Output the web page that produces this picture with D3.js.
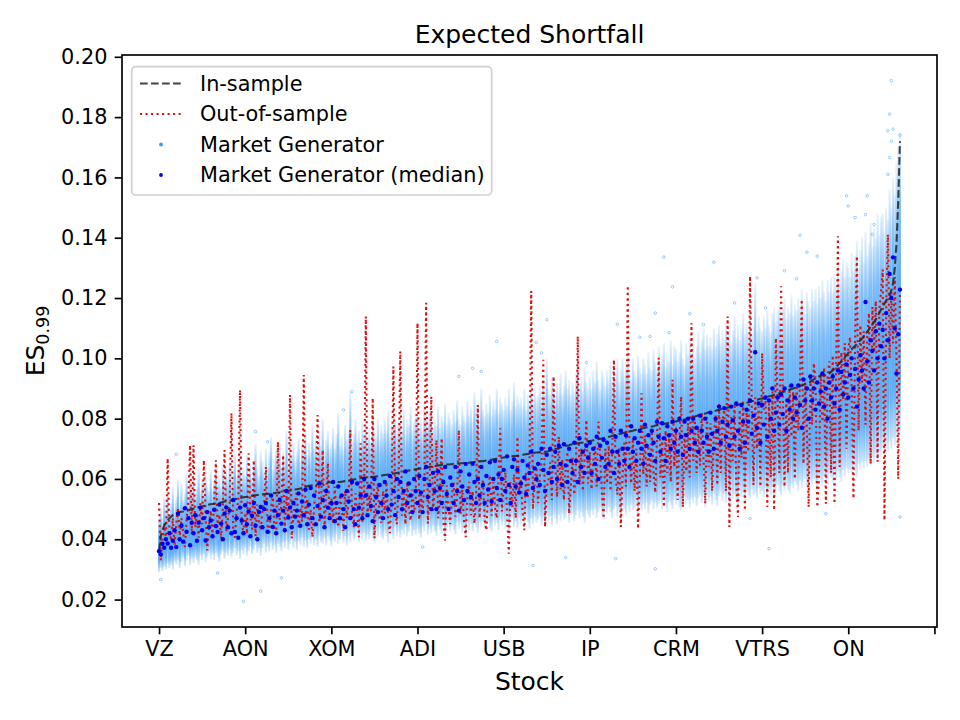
<!DOCTYPE html>
<html>

<head>
    <meta charset="utf-8">
    <style>
        body { margin: 0; background: #fff; }
        svg { font-family: "DejaVu Sans", sans-serif; }
    </style>
</head>

<body>
    <script src="https://d3js.org/d3.v7.min.js"></script>
    <div id="chart"></div>
    <script>
        // all ES values are in units of 1e-4, one entry per stock (sorted by in-sample ES)
        const inSample = [
            360,410,430,445,455,463,470,475,480,483, 486,488,490,491,492,493,494,496,498,500,
            501,503,505,506,507,509,511,513,514,515, 516,517,518,519,520,521,522,524,525,526,
            527,528,529,530,532,534,536,537,538,539, 540,541,542,543,544,545,546,547,548,548,
            549,549,550,550,551,551,552,553,554,555, 556,557,558,559,560,561,562,563,564,565,
            566,567,568,570,572,574,576,577,578,579, 580,581,582,583,584,585,586,587,588,589,
            589,589,590,590,590,590,591,592,593,594, 595,596,597,598,599,600,601,602,603,604,
            605,605,606,606,607,607,608,609,610,611, 612,613,614,615,616,617,618,619,620,621,
            622,623,624,625,627,628,629,630,631,632, 633,634,635,636,637,638,639,640,641,642,
            643,644,645,645,646,646,647,648,648,649, 649,650,650,651,651,652,652,653,653,654,
            654,655,655,656,657,657,658,659,659,660, 661,662,663,664,665,666,667,668,669,670,
            671,672,673,673,674,675,676,676,677,678, 679,680,681,682,683,684,685,686,687,688,
            688,689,689,690,690,690,692,694,696,698, 700,701,703,704,706,707,709,711,712,714,
            715,716,717,718,719,720,721,723,724,725, 726,727,728,730,731,732,733,734,736,738,
            739,740,741,743,744,746,747,749,750,752, 753,755,756,757,759,760,762,763,764,766,
            767,768,770,771,772,773,774,775,777,778, 779,780,781,782,784,785,786,787,789,790,
            791,792,793,794,796,797,799,801,802,804, 806,807,809,811,812,814,815,817,819,821,
            822,823,825,826,828,829,831,832,834,835, 837,838,840,841,843,844,846,847,849,850,
            851,853,854,856,858,859,861,862,864,866, 867,869,870,872,874,875,877,879,880,882,
            884,886,888,890,892,894,896,898,900,902, 904,906,908,910,912,914,916,918,922,926,
            930,934,937,940,942,943,944,945,946,950, 955,960,966,972,978,984,990,996,1003,1010,
            1018,1024,1030,1036,1042,1048,1054,1060,1066,1073, 1080,1088,1096,1104,1112,1120,1130,1140,1150,1162,
            1172,1182,1192,1200,1210,1225,1250,1300,1380,1520, 1720
        ]

        const outSample = [
            520,330,400,452,398,668,430,395,470,380, 450,505,412,470,425,374,462,530,712,418,
            712,440,488,405,520,450,662,478,363,445, 495,418,530,662,440,482,402,505,696,425,
            470,515,818,438,405,492,530,895,452,420, 488,418,685,475,432,662,410,515,455,430,
            495,520,640,445,415,505,540,430,410,723, 465,512,679,432,545,470,879,403,482,528,
            560,440,505,458,945,470,535,432,498,407, 512,558,812,455,520,696,436,548,652,465,
            535,452,575,480,440,548,505,428,560,470, 520,762,478,440,552,490,407,718,455,538,
            1139,470,548,492,868,403,532,585,470,455, 560,485,590,465,420,548,973,495,450,575,
            1023,478,552,450,590,505,462,565,488,530, 1117,465,548,490,585,1184,452,540,873,495,
            560,729,470,535,735,462,396,578,500,450, 548,590,475,540,762,485,565,462,407,552,
            590,480,560,452,545,845,470,555,598,462, 430,565,612,478,590,505,470,605,768,492,
            575,622,480,352,590,505,615,470,740,560, 600,490,430,625,535,640,1223,500,590,640,
            520,610,660,995,441,575,592,655,530,940, 640,540,740,565,665,530,635,690,485,575,
            670,548,650,1073,580,700,560,665,796,585, 690,565,660,712,575,790,675,555,469,700,
            585,710,560,690,995,600,548,705,441,610, 720,575,1241,690,585,735,560,700,435,598,
            884,615,745,575,710,590,760,620,555,735, 1002,605,735,507,760,620,745,590,929,640,
            770,530,735,873,507,755,625,785,605,1117, 660,795,620,770,645,820,665,518,805,640,
            785,560,750,810,580,850,620,795,830,560, 1139,441,805,660,850,585,474,830,670,860,
            496,830,690,1272,850,580,870,700,840,575, 1017,830,870,507,850,605,890,496,1067,860,
            620,1239,890,574,870,620,910,740,890,600, 910,760,930,1195,650,920,750,507,940,780,
            984,930,507,600,950,790,970,518,940,990, 620,1010,518,970,1405,640,1020,860,1050,700,
            1030,1070,900,535,1080,1339,760,1110,920,1090, 780,1070,1150,650,1170,1020,1190,657,1160,1220,
            1295,463,1170,1411,1000,1220,1050,1270,1000,600, 1230
        ]

        const genMedian = [
            360,350,385,372,400,386,420,372,395,430, 374,485,400,445,392,503,425,470,380,455,
            420,480,395,455,505,430,470,396,490,440, 462,410,498,444,424,515,452,400,485,505,
            440,495,420,530,424,470,405,505,462,420, 513,450,492,410,478,520,445,400,490,507,
            440,500,520,425,470,545,441,495,420,480, 530,452,495,430,560,472,505,440,520,475,
            495,552,445,525,480,565,450,515,570,470, 545,450,510,585,475,530,440,560,505,470,
            520,590,460,520,575,470,545,500,440,560, 525,470,590,500,450,585,505,545,470,600,
            545,480,575,510,460,600,540,490,580,520, 470,590,545,500,610,515,560,480,600,540,
            590,500,560,625,520,585,545,490,600,560, 520,610,555,490,600,640,540,580,500,620,
            560,500,625,570,520,590,640,550,500,605, 580,520,640,560,495,625,575,530,650,560,
            615,540,650,590,520,600,545,640,580,520, 610,565,655,525,600,660,570,615,530,600,
            630,560,675,580,520,640,665,575,630,555, 585,660,605,550,645,620,690,570,635,600,
            650,580,700,630,560,680,620,700,590,640, 690,600,710,650,580,715,645,590,700,660,
            620,720,660,590,735,640,690,620,710,670, 720,620,700,650,740,600,710,670,730,640,
            720,650,760,690,620,740,690,650,760,700, 660,745,700,640,775,690,735,660,720,760,
            700,650,780,710,745,680,760,720,660,790, 740,690,785,735,660,775,745,700,790,720,
            760,690,800,740,680,790,745,800,700,760, 800,720,770,690,810,760,720,800,740,690,
            820,750,700,800,760,840,720,790,835,740, 780,710,840,795,740,850,760,700,845,790,
            720,830,790,860,750,810,1020,770,850,720, 845,780,870,740,860,800,900,760,820,870,
            780,880,815,900,760,860,830,910,800,870, 820,910,845,770,930,860,900,800,940,860,
            900,830,920,850,890,950,840,900,800,920, 870,940,850,900,960,830,955,880,920,980,
            870,945,1000,900,965,840,930,1010,960,900, 1187,990,920,1060,1025,960,1090,1000,1115,1040,
            1095,1000,1150,1060,1280,1200,1335,1100,950,1080, 1228
        ]

        // spread of the generated samples per stock (low / high end of the cloud)
        const genLow = [
            290,305,295,310,300,320,305,315,300,325, 315,330,305,325,340,310,330,345,315,335,
            320,340,330,315,345,330,350,325,340,355, 335,350,330,355,340,325,350,360,335,355,
            345,365,340,355,370,345,360,335,365,350, 370,345,360,375,350,365,380,355,370,345,
            370,385,355,375,360,390,365,380,355,385, 375,360,390,370,395,365,385,400,370,390,
            365,395,380,405,375,395,370,400,385,405, 380,400,375,410,390,385,405,380,410,395,
            375,405,390,415,385,400,420,390,410,380, 410,390,420,395,405,425,390,415,400,420,
            395,415,400,430,405,390,425,410,435,405, 400,425,410,390,430,415,400,440,410,425,
            405,430,415,440,410,425,445,410,430,415, 435,420,405,440,425,450,415,435,420,445,
            425,410,445,430,420,450,405,440,450,425, 445,430,415,455,435,450,420,445,405,455,
            430,450,425,460,440,420,455,440,460,430, 450,460,435,425,465,445,455,430,465,445,
            460,435,465,415,455,470,440,460,435,470, 450,465,440,475,455,435,470,450,475,455,
            465,475,445,470,450,480,460,475,445,480, 470,450,480,460,485,465,470,490,455,480,
            485,460,480,495,470,490,475,455,495,480, 470,495,480,500,470,490,505,480,465,500,
            485,505,490,470,500,510,475,500,465,510, 500,480,510,490,515,495,500,520,475,510,
            495,515,500,520,485,515,525,500,520,505, 515,525,500,530,510,490,525,515,500,530,
            515,535,505,495,525,540,515,530,505,535, 520,540,510,535,545,520,540,505,545,525,
            540,515,550,530,510,545,555,525,550,520, 545,505,555,535,550,525,515,560,540,555,
            525,560,545,535,565,545,555,535,570,550, 560,540,570,535,565,545,575,540,565,580,
            560,545,580,560,585,565,550,585,570,590, 580,560,595,570,590,600,575,555,595,580,
            600,585,565,605,590,575,610,595,580,615, 605,585,620,600,625,605,590,630,610,635,
            620,630,615,645,625,605,650,630,655,635, 660,640,665,645,675,655,685,665,695,675,
            705,680,715,690,725,700,735,710,745,720, 750
        ]

        const genHigh = [
            470,505,470,540,495,560,480,520,575,505, 540,600,520,585,530,555,620,545,600,530,
            610,550,575,640,560,600,545,625,580,560, 630,565,600,660,580,615,570,650,595,640,
            600,665,590,625,690,610,650,700,600,640, 610,680,620,650,600,660,720,640,610,690,
            660,620,700,640,690,740,630,670,700,650, 720,645,690,660,760,650,700,680,720,660,
            690,740,660,720,700,760,680,720,690,780, 700,740,680,760,710,800,690,730,760,700,
            720,770,700,750,820,710,740,700,780,730, 760,890,720,750,800,730,760,720,790,740,
            790,740,770,720,810,760,740,800,730,780, 750,800,760,830,740,790,760,820,750,800,
            790,760,830,750,800,780,840,760,790,820, 810,770,800,760,850,820,780,840,790,770,
            800,780,840,770,810,790,850,780,820,800, 780,830,790,860,800,780,840,810,790,860,
            810,840,800,890,820,860,800,900,830,810, 850,820,880,810,860,830,900,820,870,850,
            830,870,840,900,830,860,920,840,880,850, 870,840,900,830,880,860,930,850,900,870,
            880,910,860,930,880,1000,900,880,940,890, 880,920,890,950,880,910,960,900,930,880,
            920,890,950,1000,900,940,890,970,920,900, 940,900,960,920,990,930,900,960,940,910,
            960,930,990,920,970,940,1000,920,960,1000, 940,980,1020,960,930,1000,960,940,1010,970,
            950,1000,980,950,1020,970,960,1030,990,960, 1040,980,1010,1050,970,1020,990,1060,980,1040,
            1030,990,1020,1060,1000,980,1050,1010,1070,1020, 1050,1000,1040,1090,1020,1060,1100,1030,1080,1040,
            1070,1030,1100,1040,1080,1110,1050,1090,1060,1120, 1080,1110,1050,1090,1140,1070,1110,1060,1100,1150,
            1080,1120,1090,1150,1080,1110,1250,1090,1140,1100, 1090,1140,1100,1160,1110,1090,1150,1170,1120,1160,
            1180,1120,1160,1200,1130,1170,1150,1210,1140,1180, 1160,1200,1170,1230,1180,1150,1220,1190,1170,1230,
            1190,1230,1180,1240,1200,1260,1220,1190,1260,1220, 1270,1220,1280,1240,1310,1250,1290,1330,1270,1320,
            1310,1270,1350,1290,1340,1390,1300,1360,1400,1320, 1420,1340,1380,1450,1370,1430,1400,1480,1410,1470,
            1480,1420,1500,1460,1560,1500,1600,1540,1650,1700, 1750
        ]

        // isolated generated samples outside the main cloud: [stock index, ES]
        const genStray = [
            [1,266],[10,682],[34,288],[49,194],[56,757],[59,228],[63,723],[71,272],[107,829],[112,890],
            [153,374],[174,940],[182,967],[187,956],[196,1056],[217,313],[219,1053],[222,1018],[225,1128],[236,339],
            [248,986],[265,336],[266,1113],[279,1070],[285,1073],[288,302],[288,1150],[293,1336],[296,1085],[298,1237],
            [308,1148],[316,1112],[322,1319],[334,1184],[343,469],[347,1267],[352,1167],[354,369],[363,1291],[370,1264],
            [372,1408],[376,1352],[382,1339],[387,485],[399,1539],[400,1505],[404,1467],[410,1477],[411,1539],[414,1411],
            [415,1444],[423,1610],[423,1755],[424,1666],[424,1810],[425,1720],[425,1921],[426,1760],[430,474],[430,1740]
        ]

        const tickIndex = [0, 50, 100, 150, 200, 250, 300, 350, 400, 450]
        const tickNames = ["VZ", "AON", "XOM", "ADI", "USB", "IP", "CRM", "VTRS", "ON", ""]
        const yTicks = [0.02, 0.04, 0.06, 0.08, 0.10, 0.12, 0.14, 0.16, 0.18, 0.20]

        const width = 960
        const height = 720
        const plot = { left: 122, right: 937, top: 55, bottom: 627 }
        const unit = 1e-4
        const n = inSample.length
        const ftick = 20.8

        const svg = d3.select("#chart").append("svg")
            .attr("width", width).attr("height", height)

        const x = d3.scaleLinear()
            .domain([-0.05 * (n - 1), 1.05 * (n - 1)])
            .range([plot.left, plot.right])
        const y = d3.scaleLinear()
            .domain([0.0109, 0.2006])
            .range([plot.bottom, plot.top])

        const defs = svg.append("defs")
        defs.append("clipPath").attr("id", "clip")
            .append("rect")
            .attr("x", plot.left).attr("y", plot.top)
            .attr("width", plot.right - plot.left).attr("height", plot.bottom - plot.top)

        // density falls off toward both ends of each stock's sample column
        const grad = defs.append("linearGradient").attr("id", "cloud")
            .attr("x1", 0).attr("y1", 0).attr("x2", 0).attr("y2", 1)
        const stops = [[0, 0.1], [0.25, 0.55], [0.5, 0.72], [0.8, 0.68], [1, 0.15]]
        stops.forEach(s => grad.append("stop")
            .attr("offset", s[0])
            .attr("stop-color", "#2a92f2")
            .attr("stop-opacity", s[1]))

        const g = svg.append("g").attr("clip-path", "url(#clip)")

        const bw = x(1) - x(0)
        const idx = d3.range(n)

        // generated sample cloud
        g.append("g").selectAll("rect")
            .data(idx)
            .enter()
            .append("rect")
            .attr("x", i => x(i) - bw / 2 - 0.2)
            .attr("width", bw + 0.4)
            .attr("y", i => y(genHigh[i] * unit))
            .attr("height", i => y(genLow[i] * unit) - y(genHigh[i] * unit))
            .attr("fill", "url(#cloud)")

        g.append("g").selectAll("circle")
            .data(genStray)
            .enter()
            .append("circle")
            .attr("cx", d => x(d[0]))
            .attr("cy", d => y(d[1] * unit))
            .attr("r", 1.3)
            .attr("fill", "none")
            .attr("stroke", "#1e90ff")
            .attr("stroke-opacity", 0.55)
            .attr("stroke-width", 0.8)

        const line = arr => d3.line()
            .x((d, i) => x(i))
            .y(d => y(d * unit))(arr)

        g.append("path")
            .attr("d", line(outSample))
            .attr("fill", "none")
            .attr("stroke", "#dc0f0f")
            .attr("stroke-width", 2.08)
            .attr("stroke-dasharray", "2.08,3.43")

        g.append("path")
            .attr("d", line(inSample))
            .attr("fill", "none")
            .attr("stroke", "#222")
            .attr("stroke-opacity", 0.85)
            .attr("stroke-width", 2.08)
            .attr("stroke-dasharray", "7.7,3.3")

        g.append("g").selectAll("circle")
            .data(genMedian)
            .enter()
            .append("circle")
            .attr("cx", (d, i) => x(i))
            .attr("cy", d => y(d * unit))
            .attr("r", 2.2)
            .attr("fill", "#0000f0")

        // axes
        const xAxis = d3.axisBottom(x)
            .tickValues(tickIndex)
            .tickFormat((d, i) => tickNames[i])
            .tickSize(7.3).tickPadding(7.3)
        const yAxis = d3.axisLeft(y)
            .tickValues(yTicks)
            .tickFormat(d3.format(".2f"))
            .tickSize(7.3).tickPadding(7.3)

        const gx = svg.append("g")
            .attr("transform", "translate(0," + plot.bottom + ")")
            .call(xAxis)
        const gy = svg.append("g")
            .attr("transform", "translate(" + plot.left + ",0)")
            .call(yAxis)
        ;[gx, gy].forEach(a => {
            a.select(".domain").remove()
            a.selectAll("line").attr("stroke", "#000").attr("stroke-width", 1.67)
            a.selectAll("text").attr("font-size", ftick).attr("fill", "#000")
                .attr("font-family", "DejaVu Sans")
        })

        svg.append("rect")
            .attr("x", plot.left).attr("y", plot.top)
            .attr("width", plot.right - plot.left).attr("height", plot.bottom - plot.top)
            .attr("fill", "none").attr("stroke", "#000").attr("stroke-width", 1.67)

        const midX = (plot.left + plot.right) / 2
        svg.append("text")
            .attr("x", midX).attr("y", 42.5)
            .attr("text-anchor", "middle")
            .attr("font-size", 25)
            .text("Expected Shortfall")

        svg.append("text")
            .attr("x", midX).attr("y", 690)
            .attr("text-anchor", "middle")
            .attr("font-size", 25)
            .text("Stock")

        const yl = svg.append("text")
            .attr("transform", "translate(44," + ((plot.top + plot.bottom) / 2) + ") rotate(-90)")
            .attr("text-anchor", "middle")
            .attr("font-size", 25)
        yl.append("tspan").text("ES")
        yl.append("tspan").attr("font-size", 17.5).attr("dy", 5).text("0.99")

        // legend
        const leg = svg.append("g")
        leg.append("rect")
            .attr("x", 131.7).attr("y", 66.7)
            .attr("width", 360).attr("height", 128.3)
            .attr("rx", 4)
            .attr("fill", "#fff").attr("fill-opacity", 0.8)
            .attr("stroke", "#d0d0d0").attr("stroke-width", 1.67)

        const legendItems = [
            { label: "In-sample", kind: "dash" },
            { label: "Out-of-sample", kind: "dot" },
            { label: "Market Generator", kind: "cloud" },
            { label: "Market Generator (median)", kind: "median" }
        ]
        const rowY = [83.5, 114, 144.5, 175]
        legendItems.forEach((it, k) => {
            const yy = rowY[k]
            if (it.kind === "dash" || it.kind === "dot") {
                leg.append("line")
                    .attr("x1", 140).attr("x2", 181.7)
                    .attr("y1", yy).attr("y2", yy)
                    .attr("stroke", it.kind === "dash" ? "#222" : "#dc0f0f")
                    .attr("stroke-opacity", it.kind === "dash" ? 0.85 : 1)
                    .attr("stroke-width", 2.08)
                    .attr("stroke-dasharray", it.kind === "dash" ? "7.7,3.3" : "2.08,3.43")
            } else {
                leg.append("circle")
                    .attr("cx", 161).attr("cy", yy)
                    .attr("r", 1.9)
                    .attr("fill", it.kind === "cloud" ? "#3a9cf2" : "#0000f0")
            }
            leg.append("text")
                .attr("x", 200).attr("y", yy)
                .attr("dy", "0.35em")
                .attr("font-size", ftick)
                .text(it.label)
        })
    </script>
</body>

</html>
